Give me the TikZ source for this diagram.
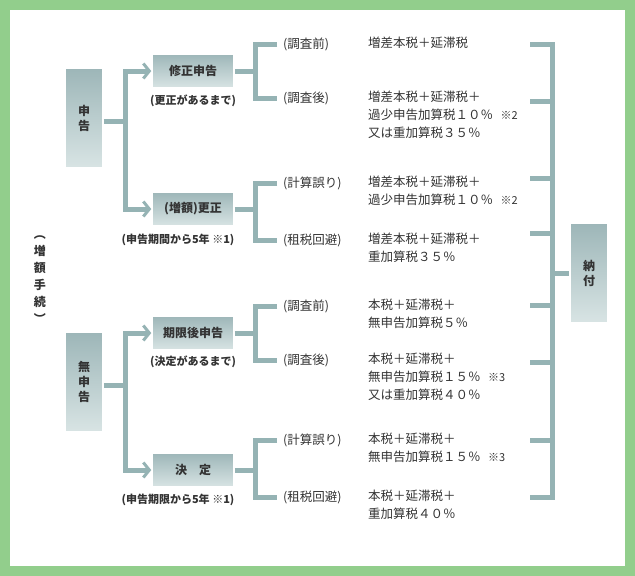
\documentclass[tikz,border=0pt]{standalone}
\usepackage{fontspec}
\setmainfont{Noto Sans CJK JP}
\usetikzlibrary{arrows.meta}
\definecolor{ln}{HTML}{95B3B4}
\definecolor{bt}{HTML}{9DB6B8}
\definecolor{bb}{HTML}{D8E4E4}
\definecolor{gr}{HTML}{92CE8C}
\definecolor{tx}{HTML}{333333}
\newcommand{\kome}[1]{\hspace{0.6em}{\fontsize{11}{12}\selectfont ※#1}}
\begin{document}
\begin{tikzpicture}[x=1pt,y=-1pt,
  box/.style={draw=white,line width=1.5pt,top color=bt,bottom color=bb,text=tx,font=\fontsize{12}{15}\selectfont\bfseries,inner sep=0pt},
  vbox/.style={box,minimum width=38pt,minimum height=99pt,align=center},
  hbox/.style={box,minimum width=82pt,minimum height=34pt},
  lnst/.style={draw=ln,line width=5pt},
  arr/.style={lnst,-{Straight Barb[length=6pt,width=15pt,line width=3pt]}},
  txt/.style={anchor=west,text=tx,font=\fontsize{12.5}{18}\selectfont,inner sep=0pt,align=left},
  capt/.style={text=tx,font=\fontsize{11}{12}\selectfont\bfseries,inner sep=0pt}]
\fill[gr] (0,0) rectangle (635,576);
\fill[white] (10,10) rectangle (625,566);
\useasboundingbox (0,0) rectangle (635,576);
% main boxes
\node[vbox] (shin) at (84,118) {申\\告};
\node[vbox] (mu) at (84,382) {無\\申\\告};
\node[vbox] (nofu) at (589,273) {納\\付};
\node[hbox] (shu) at (193,71) {修正申告};
\node[hbox] (kou) at (193,209) {(増額)更正};
\node[hbox] (kig) at (193,333) {期限後申告};
\node[hbox] (ket) at (193,470) {決\hspace{1em}定};
\node[capt] (c1) at (193,101) {(更正があるまで)};
\node[capt] (c2) at (178,240) {(申告期間から5年 ※1)};
\node[capt] (c3) at (193,362) {(決定があるまで)};
\node[capt] (c4) at (178,500) {(申告期限から5年 ※1)};
\node[text=tx,font=\fontsize{12}{17}\selectfont\bfseries,align=center,inner sep=0pt] (side) at (40,280) {︵\\増\\額\\手\\続\\︶};
% left trees
\coordinate (j1) at (125,121);
\draw[lnst] (shin.east|-j1) -- (j1);
\draw[lnst] (125,71) -- (125,209);
\draw[arr] (123,71) -- (shu.west);
\draw[arr] (123,209) -- (kou.west);
\coordinate (j2) at (125,385);
\draw[lnst] (mu.east|-j2) -- (j2);
\draw[lnst] (125,333) -- (125,470);
\draw[arr] (123,333) -- (kig.west);
\draw[arr] (123,470) -- (ket.west);
% sub trees
\foreach \b/\y/\ya/\yb in {shu/71/44/98, kou/209/183/240, kig/333/306/360, ket/470/440/497}{
  \draw[lnst] (\b.east) -- (255,\y);
  \draw[lnst] (277,\ya) -- (255,\ya) -- (255,\yb) -- (277,\yb);
}
% labels
\foreach \y/\l in {44/調査前,98/調査後,183/計算誤り,240/租税回避,306/調査前,360/調査後,440/計算誤り,497/租税回避}
  \node[txt] at (283,\y) {(\l)};
\node[txt,anchor=north west] at (368,37) {増差本税＋延滞税};
\node[txt,anchor=north west] at (368,91) {増差本税＋延滞税＋\\過少申告加算税１０％\kome{2}\\又は重加算税３５％};
\node[txt,anchor=north west] at (368,176) {増差本税＋延滞税＋\\過少申告加算税１０％\kome{2}};
\node[txt,anchor=north west] at (368,233) {増差本税＋延滞税＋\\重加算税３５％};
\node[txt,anchor=north west] at (368,299) {本税＋延滞税＋\\無申告加算税５％};
\node[txt,anchor=north west] at (368,353) {本税＋延滞税＋\\無申告加算税１５％\kome{3}\\又は重加算税４０％};
\node[txt,anchor=north west] at (368,433) {本税＋延滞税＋\\無申告加算税１５％\kome{3}};
\node[txt,anchor=north west] at (368,490) {本税＋延滞税＋\\重加算税４０％};
% right bracket
\draw[lnst] (530,44) -- (552,44) -- (552,497) -- (530,497);
\foreach \y in {101,178,233,305,362,440}
  \draw[lnst] (530,\y) -- (552,\y);
\draw[lnst] (552,273) -- (nofu.west);
\end{tikzpicture}
\end{document}
